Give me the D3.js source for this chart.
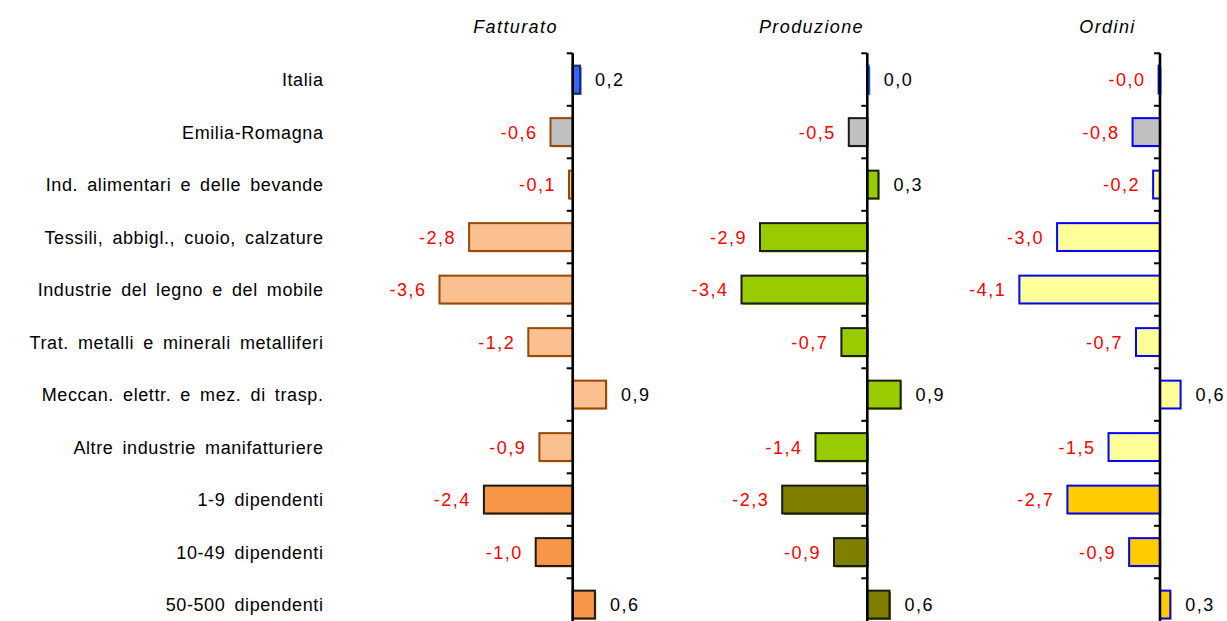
<!DOCTYPE html>
<html>
<head>
<meta charset="utf-8">
<script src="https://cdn.jsdelivr.net/npm/d3@7"></script>
<style>
  html, body { margin: 0; padding: 0; background: #fff; }
  svg { display: block; }
  text { font-family: "Liberation Sans", Arial, sans-serif; }
</style>
</head>
<body>
<svg id="chart" width="1227" height="621"></svg>
<script>
// ---- data ----
const categories = [
  "Italia",
  "Emilia-Romagna",
  "Ind. alimentari e delle bevande",
  "Tessili, abbigl., cuoio, calzature",
  "Industrie del legno e del mobile",
  "Trat. metalli e minerali metalliferi",
  "Meccan. elettr. e mez. di trasp.",
  "Altre industrie manifatturiere",
  "1-9 dipendenti",
  "10-49 dipendenti",
  "50-500 dipendenti"
];
const panelTitles = ["Fatturato", "Produzione", "Ordini"];
const fatturato  = [0.2, -0.6, -0.1, -2.8, -3.6, -1.2, 0.9, -0.9, -2.4, -1.0, 0.6];
const produzione = [0.04, -0.5, 0.3, -2.9, -3.4, -0.7, 0.9, -1.4, -2.3, -0.9, 0.6];
const ordini     = [-0.04, -0.8, -0.2, -3.0, -4.1, -0.7, 0.6, -1.5, -2.7, -0.9, 0.3];
const seriesValues = [fatturato, produzione, ordini];

// ---- styles (per panel, per row group: 0 Italia, 1 Emilia-Romagna, 2 sectors, 3 size classes) ----
const groupOf = i => (i === 0 ? 0 : i === 1 ? 1 : i <= 7 ? 2 : 3);
const panelStyles = [
  { fills: ["#3366ff", "#c0c0c0", "#fac090", "#f79646"],
    strokes: ["#1f2d5c", "#984807", "#984807", "#1a1a1a"] },
  { fills: ["#3366ff", "#c0c0c0", "#99cc00", "#808000"],
    strokes: ["#2a50d0", "#1a1a1a", "#1a1a1a", "#1a1a1a"] },
  { fills: ["#3366ff", "#c0c0c0", "#ffff99", "#ffcc00"],
    strokes: ["#0000ff", "#0000ff", "#0000ff", "#0000ff"] }
];
// layout per panel: zero position and pixel span
const panelLayout = [
  { zero: 572.7, domain: [-4, 1], unit: 37.0, titleX: 515.5 },
  { zero: 867.3, domain: [-4, 1], unit: 37.0, titleX: 811.5 },
  { zero: 1160,  domain: [-4.5, 1], unit: 34.3, titleX: 1107.5 }
];

const svg = d3.select("#chart");
const fmt = v => (v < 0 ? "-" : "") + Math.abs(v).toFixed(1).replace(".", ",");

const y = d3.scaleBand()
  .domain(categories)
  .range([53.3, 53.3 + 52.5 * 11])
  .paddingInner(0.47)
  .paddingOuter(0.235);

// category labels
svg.append("g").selectAll("text")
  .data(categories)
  .join("text")
  .attr("x", 323.5)
  .attr("y", d => y(d) + y.bandwidth() / 2)
  .attr("dy", "0.36em")
  .attr("text-anchor", "end")
  .attr("font-size", 18)
  .attr("letter-spacing", 0.6)
  .attr("word-spacing", 3.5)
  .attr("fill", "#000")
  .text(d => d);

seriesValues.forEach((vals, p) => {
  const L = panelLayout[p];
  const st = panelStyles[p];
  const x = d3.scaleLinear()
    .domain(L.domain)
    .range([L.zero + L.domain[0] * L.unit, L.zero + L.domain[1] * L.unit]);
  const g = svg.append("g");
  const rows = categories.map((c, i) => ({ c, v: vals[i], i }));

  // title
  g.append("text")
    .attr("x", L.titleX)
    .attr("y", 33)
    .attr("text-anchor", "middle")
    .attr("font-size", 18)
    .attr("font-style", "italic")
    .attr("letter-spacing", 1.4)
    .text(panelTitles[p]);

  // shadows
  g.append("g").selectAll("rect")
    .data(rows)
    .join("rect")
    .attr("x", d => Math.min(x(0), x(d.v)) + 1.5)
    .attr("y", d => y(d.c) + 1.5)
    .attr("width", d => Math.abs(x(d.v) - x(0)))
    .attr("height", y.bandwidth())
    .attr("fill", d => st.fills[groupOf(d.i)]);

  // bars
  g.append("g").selectAll("rect")
    .data(rows)
    .join("rect")
    .attr("x", d => Math.min(x(0), x(d.v)))
    .attr("y", d => y(d.c))
    .attr("width", d => Math.abs(x(d.v) - x(0)))
    .attr("height", y.bandwidth())
    .attr("fill", d => st.fills[groupOf(d.i)])
    .attr("stroke", d => st.strokes[groupOf(d.i)])
    .attr("stroke-width", 2);

  // value labels
  g.append("g").selectAll("text")
    .data(rows)
    .join("text")
    .attr("x", d => d.v < 0 ? x(d.v) - 13 : x(d.v) + 15)
    .attr("y", d => y(d.c) + y.bandwidth() / 2)
    .attr("dy", "0.36em")
    .attr("text-anchor", d => d.v < 0 ? "end" : "start")
    .attr("font-size", 18)
    .attr("letter-spacing", 1.5)
    .attr("fill", d => d.v < 0 ? "#ff0000" : "#000")
    .text(d => fmt(d.v));

  // axis with ticks at band boundaries
  const axisG = g.append("g");
  axisG.append("line")
    .attr("x1", x(0)).attr("x2", x(0))
    .attr("y1", 53.3).attr("y2", 621)
    .attr("stroke", "#000").attr("stroke-width", 2.6);
  const bounds = categories.map(c => y(c) - y.step() * y.paddingInner() / 2);
  axisG.selectAll("line.tick")
    .data(bounds)
    .join("line")
    .attr("class", "tick")
    .attr("x1", x(0) - 6).attr("x2", x(0))
    .attr("y1", d => d).attr("y2", d => d)
    .attr("stroke", "#000").attr("stroke-width", 2);
});
</script>
</body>
</html>
